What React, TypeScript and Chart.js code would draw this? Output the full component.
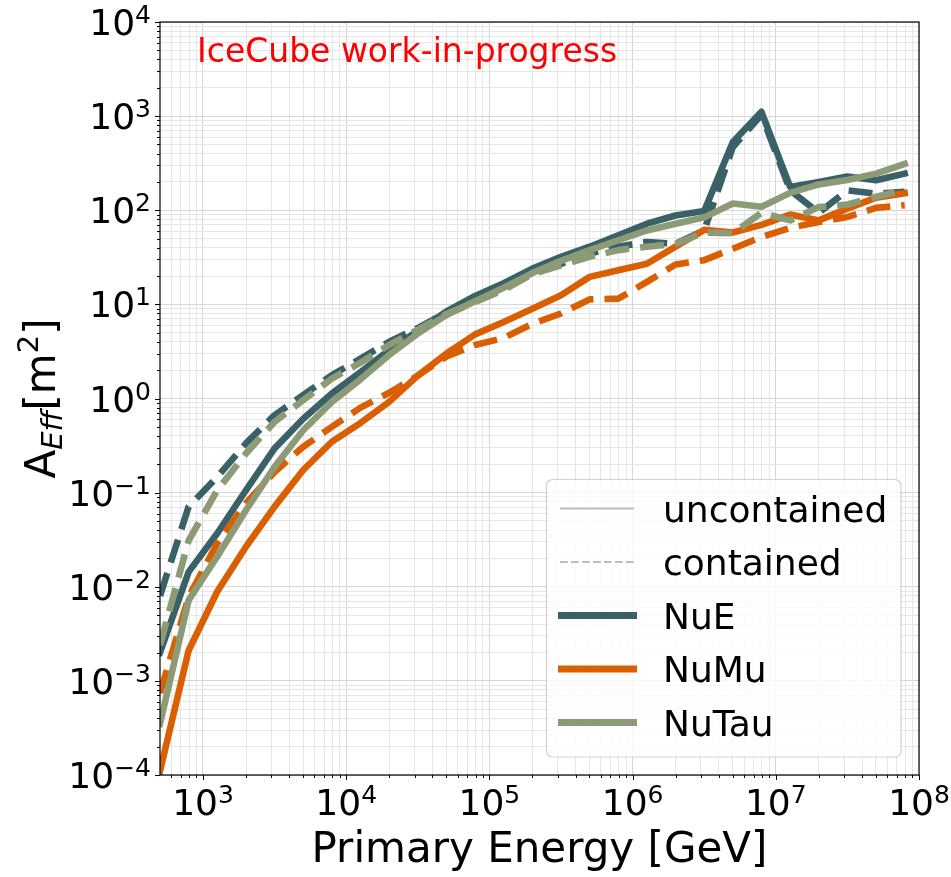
import React, { useEffect, useRef } from "react";
import { Chart, registerables } from "chart.js";

Chart.register(...registerables);

// Primary energy grid [GeV], 0.2 decade steps from 10^2.7 to 10^7.9
const energies = [
  501, 794, 1259, 1995, 3162, 5012, 7943, 12589, 19953, 31623, 50119, 79433,
  125893, 199526, 316228, 501187, 794328, 1258925, 1995262, 3162278, 5011872,
  7943282, 12589254, 19952623, 31622777, 50118723, 79432823,
];

// Effective areas [m^2]
const nueUncontained = [
  2.0e-3, 0.0144, 0.037, 0.106, 0.295, 0.61, 1.13, 1.9, 3.27, 5.2, 8.4, 12.3,
  16.8, 24, 32, 41, 54, 72, 88, 98, 530, 1110, 177, 200, 228, 208, 245,
];
const nueContained = [
  8.0e-3, 0.071, 0.147, 0.333, 0.665, 1.09, 1.77, 2.65, 4.0, 5.6, 8.2, 11.2,
  15.2, 22.5, 27, 34.7, 41, 46, 44, 61, 470, 1030, 163, 94, 163, 150, 157,
];
const numuUncontained = [
  1.1e-4, 2.1e-3, 8.9e-3, 0.0266, 0.071, 0.174, 0.347, 0.55, 0.92, 1.75, 3.0,
  4.8, 6.5, 9.0, 12.5, 19.6, 23, 27, 41, 62, 58, 70, 90, 78, 104, 136, 152,
];
const numuContained = [
  7.4e-4, 7.8e-3, 0.029, 0.077, 0.166, 0.307, 0.5, 0.8, 1.15, 1.75, 2.8, 3.7,
  4.4, 6.2, 8.0, 11.3, 11.5, 17.3, 26.5, 29.5, 39, 52, 65, 75, 85, 106, 113,
];
const nutauUncontained = [
  3.5e-4, 7.2e-3, 0.021, 0.065, 0.188, 0.46, 0.92, 1.6, 2.9, 4.9, 7.7, 10.8,
  15, 21.5, 29, 37.7, 48, 61, 72, 84, 118, 109, 153, 188, 210, 245, 310,
];
const nutauContained = [
  2.4e-3, 0.031, 0.106, 0.26, 0.565, 0.96, 1.63, 2.4, 3.7, 5.4, 7.9, 10.6,
  14.2, 21, 26, 32, 37.7, 41, 44, 58, 57, 94, 78, 108, 115, 139, 163,
];

const flavours = ["NuE", "NuMu", "NuTau"];
const selections = ["uncontained", "contained"];
const xTickExponents = [3, 4, 5, 6, 7, 8];
const yTickExponents = [-4, -3, -2, -1, 0, 1, 2, 3, 4];

const X_MIN = 501;
const X_MAX = 1e8;
const Y_MIN = 1e-4;
const Y_MAX = 1e4;

const COLORS: Record<string, string> = {
  NuE: "#3a6168",
  NuMu: "#d95f02",
  NuTau: "#8c9b76",
};
const FONT = '"DejaVu Sans"';
const LINE_W = 6.6;
const DASH = [24, 11];

function logTicks(min: number, max: number) {
  const out: { value: number; major: boolean }[] = [];
  const e0 = Math.floor(Math.log10(min));
  const e1 = Math.ceil(Math.log10(max));
  for (let e = e0; e <= e1; e++) {
    for (let m = 1; m <= 9; m++) {
      const v = m * Math.pow(10, e);
      if (v >= min * 0.9999 && v <= max * 1.0001) out.push({ value: v, major: m === 1 });
    }
  }
  return out;
}

const isDecade = (v: number) => Math.abs(Math.log10(v) - Math.round(Math.log10(v))) < 1e-6;

function drawPower(
  ctx: CanvasRenderingContext2D,
  exp: number,
  x: number,
  baseline: number,
  align: "center" | "right"
) {
  const base = "10";
  const sup = exp < 0 ? "\u2212" + Math.abs(exp) : String(exp);
  const mainFont = `36px ${FONT}`;
  const supFont = `25px ${FONT}`;
  ctx.font = mainFont;
  const wb = ctx.measureText(base).width;
  ctx.font = supFont;
  const ws = ctx.measureText(sup).width;
  const total = wb + ws;
  const x0 = align === "center" ? x - total / 2 : x - total;
  ctx.textAlign = "left";
  ctx.textBaseline = "alphabetic";
  ctx.fillStyle = "#000";
  ctx.font = mainFont;
  ctx.fillText(base, x0, baseline);
  ctx.font = supFont;
  ctx.fillText(sup, x0 + wb, baseline - 12);
}

const decorations = {
  id: "decorations",
  afterDraw(chart: any) {
    const { ctx, chartArea: a, scales } = chart;
    const xs = scales.x;
    const ys = scales.y;
    ctx.save();

    // axes frame
    ctx.strokeStyle = "#000";
    ctx.lineWidth = 1.2;
    ctx.strokeRect(a.left, a.top, a.right - a.left, a.bottom - a.top);

    // tick marks (outside)
    ctx.lineWidth = 1;
    for (const t of logTicks(X_MIN, X_MAX)) {
      const px = Math.round(xs.getPixelForValue(t.value)) + 0.5;
      const len = t.major ? 5 : 3;
      ctx.beginPath();
      ctx.moveTo(px, a.bottom);
      ctx.lineTo(px, a.bottom + len);
      ctx.stroke();
    }
    for (const t of logTicks(Y_MIN, Y_MAX)) {
      const py = Math.round(ys.getPixelForValue(t.value)) + 0.5;
      const len = t.major ? 5 : 3;
      ctx.beginPath();
      ctx.moveTo(a.left, py);
      ctx.lineTo(a.left - len, py);
      ctx.stroke();
    }

    // tick labels
    for (const e of xTickExponents) {
      drawPower(ctx, e, xs.getPixelForValue(Math.pow(10, e)), a.bottom + 40, "center");
    }
    for (const e of yTickExponents) {
      drawPower(ctx, e, a.left - 9, ys.getPixelForValue(Math.pow(10, e)) + 13, "right");
    }

    // x title
    ctx.fillStyle = "#000";
    ctx.font = `42px ${FONT}`;
    ctx.textAlign = "center";
    ctx.textBaseline = "alphabetic";
    ctx.fillText("Primary Energy [GeV]", (a.left + a.right) / 2, 862);

    // y title: A_{Eff}[m^2]
    const parts = [
      { t: "A", font: `42px ${FONT}`, dy: 0 },
      { t: "Eff", font: `italic 29px ${FONT}`, dy: 7 },
      { t: "[m", font: `42px ${FONT}`, dy: 0 },
      { t: "2", font: `29px ${FONT}`, dy: -17 },
      { t: "]", font: `42px ${FONT}`, dy: 0 },
    ];
    let total = 0;
    const widths = parts.map((p) => {
      ctx.font = p.font;
      const w = ctx.measureText(p.t).width;
      total += w;
      return w;
    });
    ctx.save();
    ctx.translate(55, (a.top + a.bottom) / 2);
    ctx.rotate(-Math.PI / 2);
    ctx.textAlign = "left";
    let cx = -total / 2;
    parts.forEach((p, i) => {
      ctx.font = p.font;
      ctx.fillText(p.t, cx, p.dy);
      cx += widths[i];
    });
    ctx.restore();

    // annotation
    ctx.fillStyle = "#ff0000";
    ctx.font = `33px ${FONT}`;
    ctx.textAlign = "left";
    ctx.fillText("IceCube work-in-progress", 197, 62);

    // legend
    const lx = 546.5;
    const ly = 479.5;
    const lw = 354.5;
    const lh = 277.5;
    ctx.beginPath();
    ctx.roundRect(lx, ly, lw, lh, 6);
    ctx.fillStyle = "rgba(255,255,255,0.8)";
    ctx.fill();
    ctx.strokeStyle = "rgba(204,204,204,0.9)";
    ctx.lineWidth = 1.2;
    ctx.stroke();

    const rows: { label: string; color: string; width: number; dash: number[] }[] = [
      { label: selections[0], color: "#bdbdbd", width: 2, dash: [] },
      { label: selections[1], color: "#bdbdbd", width: 2, dash: [7.7, 3.3] },
      ...flavours.map((f) => ({ label: f, color: COLORS[f], width: 7, dash: [] as number[] })),
    ];
    rows.forEach((r, i) => {
      const yc = 508.5 + i * 53.5;
      ctx.beginPath();
      ctx.setLineDash(r.dash);
      ctx.strokeStyle = r.color;
      ctx.lineWidth = r.width;
      ctx.lineCap = "butt";
      ctx.moveTo(r.width > 3 ? 558 : 560, yc);
      ctx.lineTo(r.width > 3 ? 637 : 634, yc);
      ctx.stroke();
      ctx.setLineDash([]);
      ctx.fillStyle = "#000";
      ctx.font = `36px ${FONT}`;
      ctx.textAlign = "left";
      ctx.fillText(r.label, 663, yc + 13);
    });

    ctx.restore();
  },
};

const seriesList = [
  { flavour: "NuE", values: nueUncontained, dashed: false },
  { flavour: "NuE", values: nueContained, dashed: true },
  { flavour: "NuMu", values: numuUncontained, dashed: false },
  { flavour: "NuMu", values: numuContained, dashed: true },
  { flavour: "NuTau", values: nutauUncontained, dashed: false },
  { flavour: "NuTau", values: nutauContained, dashed: true },
];

export default function App() {
  const ref = useRef<HTMLCanvasElement>(null);

  useEffect(() => {
    if (!ref.current) return;
    const datasets = seriesList.map((s, i) => ({
      label: `${s.flavour} ${s.dashed ? selections[1] : selections[0]}`,
      data: energies.map((e, k) => ({ x: e, y: s.values[k] })),
      borderColor: COLORS[s.flavour],
      backgroundColor: COLORS[s.flavour],
      borderWidth: LINE_W,
      borderDash: s.dashed ? DASH : [],
      borderCapStyle: s.dashed ? "butt" : "square",
      borderJoinStyle: "round",
      pointRadius: 0,
      pointHoverRadius: 0,
      tension: 0,
      fill: false,
      clip: 0,
      order: seriesList.length - i,
    }));

    const gridColor = (ctx: any) =>
      ctx.tick && isDecade(ctx.tick.value) ? "#d6d6d6" : "#e6e6e6";

    const chart = new Chart(ref.current, {
      type: "line",
      data: { datasets } as any,
      options: {
        animation: false,
        responsive: false,
        devicePixelRatio: 1,
        events: [],
        layout: { padding: { top: 22, right: 32, left: 0, bottom: 0 } },
        plugins: {
          legend: { display: false },
          tooltip: { enabled: false },
        },
        scales: {
          x: {
            type: "logarithmic",
            min: X_MIN,
            max: X_MAX,
            afterBuildTicks: (ax: any) => {
              ax.ticks = logTicks(X_MIN, X_MAX);
            },
            afterFit: (s: any) => {
              s.height = 102;
            },
            ticks: { display: false },
            grid: { color: gridColor, lineWidth: 1, drawTicks: false },
            border: { display: false },
          },
          y: {
            type: "logarithmic",
            min: Y_MIN,
            max: Y_MAX,
            afterBuildTicks: (ax: any) => {
              ax.ticks = logTicks(Y_MIN, Y_MAX);
            },
            afterFit: (s: any) => {
              s.width = 160;
            },
            ticks: { display: false },
            grid: { color: gridColor, lineWidth: 1, drawTicks: false },
            border: { display: false },
          },
        },
      } as any,
      plugins: [decorations],
    });
    return () => chart.destroy();
  }, []);

  return (
    <div
      style={{
        position: "fixed",
        left: 0,
        top: 0,
        width: 951,
        height: 877,
        background: "#ffffff",
      }}
    >
      <canvas
        ref={ref}
        width={951}
        height={877}
        style={{ display: "block", width: 951, height: 877 }}
      />
    </div>
  );
}
